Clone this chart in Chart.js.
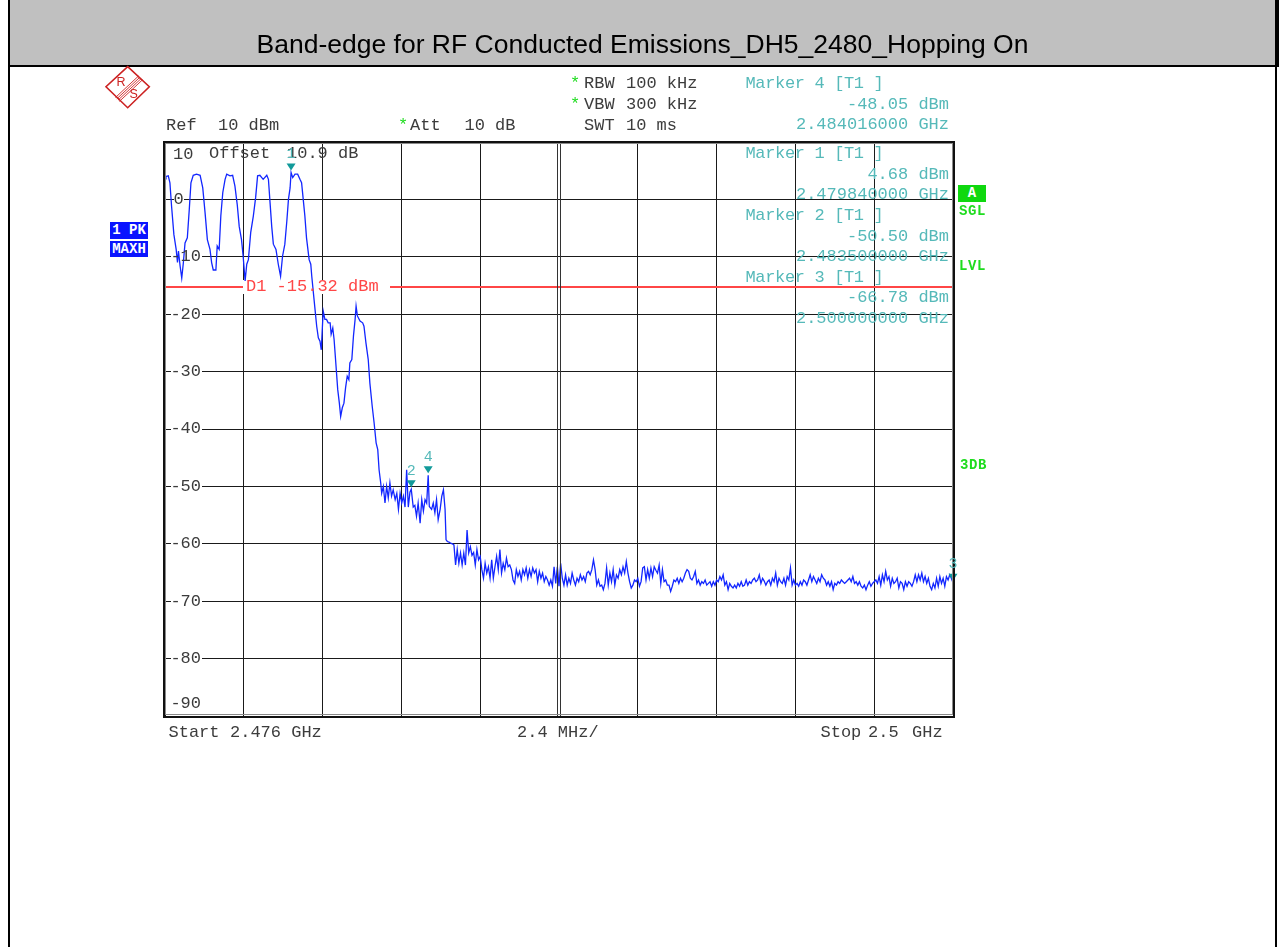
<!DOCTYPE html>
<html><head><meta charset="utf-8">
<script src="https://cdn.jsdelivr.net/npm/chart.js@4.4.1/dist/chart.umd.min.js"></script>
<style>
html,body{margin:0;padding:0;background:#fff;width:1279px;height:947px;overflow:hidden;position:relative;}
#c{position:absolute;left:0;top:0;}
.t{position:absolute;white-space:pre;font-family:"Liberation Mono","DejaVu Sans Mono",monospace;line-height:1;}
.box{position:absolute;color:#fff;font-family:"Liberation Mono",monospace;font-weight:bold;font-size:14px;text-align:center;}
#titlebar{position:absolute;left:8px;top:0;width:1267px;height:65px;background:#c0c0c0;border-left:2px solid #000;border-right:2px solid #000;border-bottom:2px solid #000;}
#title{position:absolute;left:8px;width:1269px;text-align:center;font-family:"Liberation Sans",Arial,sans-serif;font-size:26.5px;line-height:1;color:#000;white-space:pre;}
.vl{position:absolute;top:0;width:2px;height:947px;background:#000;}
</style></head><body>
<canvas id="c" width="1279" height="947"></canvas>
<div id="titlebar"></div>
<div class="vl" style="left:8px"></div>
<div class="vl" style="left:1275px"></div>
<div id="title">Band-edge for RF Conducted Emissions_DH5_2480_Hopping On</div>
<svg style="position:absolute;left:104px;top:64px" width="48" height="46" viewBox="0 0 48 46">
<polygon points="23.7,2.7 45.3,22.7 23.7,43.7 2,22.7" fill="none" stroke="#cc2222" stroke-width="1.6"/>
<g stroke="#cc2222" stroke-width="0.9">
<line x1="11.5" y1="33.5" x2="34.5" y2="12"/>
<line x1="12.8" y1="34.8" x2="35.8" y2="13.3"/>
<line x1="14.1" y1="36.1" x2="37.1" y2="14.6"/>
<line x1="15.4" y1="37.4" x2="38.4" y2="15.9"/>
</g>
<text x="12.5" y="21.5" font-family="Liberation Sans" font-size="12.5" fill="#cc2222">R</text>
<text x="25.5" y="34" font-family="Liberation Sans" font-size="12.5" fill="#cc2222">S</text>
</svg>
<script>
// ---------- data ----------
// sweep frequencies (MHz) and max-hold levels (dBm)
const freqMHz = [
2476.00,2476.03,2476.10,2476.15,2476.20,2476.27,2476.34,2476.38,2476.41,2476.46,
2476.51,2476.56,2476.61,2476.68,2476.74,2476.79,2476.86,2476.96,2477.07,2477.15,
2477.22,2477.29,2477.37,2477.42,2477.47,2477.55,2477.59,2477.65,2477.70,2477.76,
2477.83,2477.88,2477.98,2478.06,2478.13,2478.20,2478.26,2478.33,2478.38,2478.44,
2478.49,2478.54,2478.61,2478.69,2478.76,2478.82,2478.89,2478.99,2479.10,2479.15,
2479.20,2479.25,2479.30,2479.38,2479.45,2479.52,2479.58,2479.65,2479.71,2479.76,
2479.81,2479.84,2479.89,2479.96,2480.04,2480.11,2480.16,2480.21,2480.26,2480.31,
2480.39,2480.44,2480.47,2480.52,2480.57,2480.62,2480.67,2480.72,2480.76,2480.80,
2480.82,2480.87,2480.92,2480.97,2481.03,2481.06,2481.11,2481.15,2481.21,2481.26,
2481.31,2481.35,2481.40,2481.45,2481.50,2481.55,2481.60,2481.63,2481.69,2481.74,
2481.79,2481.82,2481.86,2481.94,2482.02,2482.06,2482.12,2482.19,2482.24,2482.31,
2482.37,2482.43,2482.48,2482.52,2482.57,2482.60,2482.65,2482.70,2482.75,2482.80,
2482.85,2482.90,2482.95,2483.01,2483.06,2483.11,2483.16,2483.21,2483.26,2483.31,
2483.36,2483.41,2483.46,2483.50,2483.56,2483.61,2483.66,2483.71,2483.77,2483.82,
2483.87,2483.92,2483.97,2484.016,2484.05,2484.12,2484.17,2484.22,2484.27,2484.32,
2484.38,2484.43,2484.48,2484.53,2484.56,
2484.60,2484.65,2484.70,2484.75,2484.80,2484.85,2484.90,2484.95,
2485.00,2485.05,2485.10,2485.15,2485.20,2485.25,2485.30,2485.35,2485.40,2485.45,2485.50,2485.55,2485.60,2485.65,2485.70,2485.75,2485.80,2485.85,2485.90,2485.95,
2486.00,2486.05,2486.10,2486.15,2486.20,2486.25,2486.30,2486.35,2486.40,2486.45,2486.50,2486.55,2486.60,2486.65,2486.70,2486.75,2486.80,2486.85,2486.90,2486.95,
2487.00,2487.05,2487.10,2487.15,2487.20,2487.25,2487.30,2487.35,2487.40,2487.45,2487.50,2487.55,2487.60,2487.65,2487.70,2487.75,2487.80,2487.85,2487.90,2487.95,
2488.00,2488.05,2488.10,2488.15,2488.20,2488.25,2488.30,2488.35,2488.40,2488.45,2488.50,2488.55,2488.60,2488.65,2488.70,2488.75,2488.80,2488.85,2488.90,2488.95,
2489.00,2489.05,2489.10,2489.15,2489.20,2489.25,2489.30,2489.35,2489.40,2489.45,2489.50,2489.55,2489.60,2489.65,2489.70,2489.75,2489.80,2489.85,2489.90,2489.95,
2490.00,2490.05,2490.10,2490.15,2490.20,2490.25,2490.30,2490.35,2490.40,2490.45,2490.50,2490.55,2490.60,2490.65,2490.70,2490.75,2490.80,2490.85,2490.90,2490.95,
2491.00,2491.05,2491.10,2491.15,2491.20,2491.25,2491.30,2491.35,2491.40,2491.45,2491.50,2491.55,2491.60,2491.65,2491.70,2491.75,2491.80,2491.85,2491.90,2491.95,
2492.00,2492.05,2492.10,2492.15,2492.20,2492.25,2492.30,2492.35,2492.40,2492.45,2492.50,2492.55,2492.60,2492.65,2492.70,2492.75,2492.80,2492.85,2492.90,2492.95,
2493.00,2493.05,2493.10,2493.15,2493.20,2493.25,2493.30,2493.35,2493.40,2493.45,2493.50,2493.55,2493.60,2493.65,2493.70,2493.75,2493.80,2493.85,2493.90,2493.95,
2494.00,2494.05,2494.10,2494.15,2494.20,2494.25,2494.30,2494.35,2494.40,2494.45,2494.50,2494.55,2494.60,2494.65,2494.70,2494.75,2494.80,2494.85,2494.90,2494.95,
2495.00,2495.05,2495.10,2495.15,2495.20,2495.25,2495.30,2495.35,2495.40,2495.45,2495.50,2495.55,2495.60,2495.65,2495.70,2495.75,2495.80,2495.85,2495.90,2495.95,
2496.00,2496.05,2496.10,2496.15,2496.20,2496.25,2496.30,2496.35,2496.40,2496.45,2496.50,2496.55,2496.60,2496.65,2496.70,2496.75,2496.80,2496.85,2496.90,2496.95,
2497.00,2497.05,2497.10,2497.15,2497.20,2497.25,2497.30,2497.35,2497.40,2497.45,2497.50,2497.55,2497.60,2497.65,2497.70,2497.75,2497.80,2497.85,2497.90,2497.95,
2498.00,2498.05,2498.10,2498.15,2498.20,2498.25,2498.30,2498.35,2498.40,2498.45,2498.50,2498.55,2498.60,2498.65,2498.70,2498.75,2498.80,2498.85,2498.90,2498.95,
2499.00,2499.05,2499.10,2499.15,2499.20,2499.25,2499.30,2499.35,2499.40,2499.45,2499.50,2499.55,2499.60,2499.65,2499.70,2499.75,2499.80,2499.85,2499.90,2499.95,
2500.00
];
const levelDbm = [
3.6,4.0,4.1,2.9,-1.2,-6.1,-8.7,-11.0,-9.0,-11.6,
-13.7,-11.0,-7.6,-6.7,-1.7,2.9,4.2,4.4,4.2,2.0,
-2.3,-7.0,-8.7,-11.0,-12.3,-12.3,-8.1,-8.7,-2.9,1.2,
3.5,4.4,4.1,4.2,2.3,-0.9,-4.7,-7.0,-9.9,-14.2,
-11.3,-10.5,-5.8,-2.9,0.3,4.1,4.2,3.5,4.2,3.5,
-0.6,-4.7,-7.8,-8.7,-11.3,-13.4,-9.9,-7.8,-3.8,0.0,
2.0,4.68,3.8,4.4,4.4,3.5,2.9,0.0,-2.9,-6.7,
-10.5,-11.3,-13.4,-16.3,-19.2,-22.1,-24.1,-24.7,-26.2,-21.5,
-19.5,-20.9,-20.9,-21.5,-21.5,-23.5,-22.4,-24.4,-29.1,-33.1,
-35.5,-37.8,-36.3,-35.5,-32.8,-30.8,-31.4,-28.5,-27.9,-23.8,
-20.9,-18.6,-20.3,-21.2,-21.5,-22.1,-25.0,-27.9,-32.0,-36.0,
-39.0,-42.4,-43.6,-47.1,-49.4,-51.2,-50.0,-52.9,-50.0,-52.0,
-49.4,-51.7,-50.6,-52.3,-51.2,-54.0,-51.2,-52.9,-51.7,-53.6,
-47.1,-53.6,-51.0,-50.5,-53.6,-53.3,-55.2,-52.9,-56.4,-52.3,
-54.3,-52.3,-52.9,-48.05,-53.5,-54.0,-52.9,-54.6,-52.3,-55.8,
-54.0,-51.7,-50.6,-54.0,-59.3,
-59.6,-59.7,-59.9,-60.0,-60.2,-63.7,-61.0,-63.4,
-61.6,-63.7,-61.6,-63.7,-57.6,-61.6,-60.5,-62.0,-61.5,-63.7,-61.0,-62.8,-62.2,-64.5,-66.0,-63.4,-65.1,-64.0,-66.0,-62.8,
-66.0,-64.0,-62.2,-64.5,-61.0,-65.1,-63.4,-64.5,-62.5,-64.0,-63.7,-64.5,-66.3,-66.9,-64.5,-65.7,-64.8,-66.3,-64.5,-65.4,
-64.2,-66.0,-64.5,-65.7,-64.2,-65.1,-64.5,-66.6,-64.8,-66.0,-65.1,-66.6,-65.7,-66.3,-67.2,-66.3,-67.4,-64.0,-66.9,-64.0,
-67.4,-63.4,-66.0,-67.2,-65.4,-67.2,-66.0,-66.9,-65.1,-66.3,-67.2,-66.0,-66.6,-65.4,-66.3,-65.7,-66.6,-65.1,-64.8,-65.4,
-64.5,-62.8,-64.5,-67.2,-66.3,-67.4,-67.2,-68.0,-66.9,-64.2,-67.2,-65.1,-66.6,-64.5,-67.2,-65.4,-66.0,-64.5,-65.4,-64.0,
-65.1,-63.1,-65.1,-66.6,-67.7,-67.2,-66.3,-66.6,-66.0,-67.4,-66.6,-64.2,-64.0,-66.3,-64.5,-66.0,-64.2,-65.7,-64.0,-64.6,
-65.1,-63.7,-66.9,-64.5,-66.6,-66.3,-67.2,-67.2,-68.3,-67.4,-66.3,-66.6,-66.0,-66.9,-66.0,-66.6,-66.0,-65.1,-64.5,-64.8,
-66.0,-66.3,-65.7,-64.8,-66.9,-66.3,-67.2,-66.6,-66.9,-66.3,-67.2,-66.9,-66.6,-67.4,-66.6,-67.2,-66.3,-66.6,-65.7,-66.3,
-65.4,-67.2,-66.6,-68.0,-66.9,-67.4,-67.7,-67.2,-67.7,-66.9,-67.4,-66.6,-67.4,-67.2,-66.3,-67.2,-66.6,-66.9,-66.3,-66.0,
-66.6,-66.3,-65.4,-66.9,-66.0,-66.5,-67.2,-66.6,-66.3,-67.2,-66.0,-66.6,-65.1,-67.2,-66.0,-66.6,-66.9,-66.0,-67.2,-65.7,
-66.3,-64.2,-67.2,-66.3,-67.2,-66.9,-67.4,-66.6,-67.2,-66.3,-66.6,-67.2,-66.3,-65.4,-66.6,-65.7,-66.3,-66.9,-66.0,-66.6,
-65.4,-66.0,-66.3,-67.2,-66.6,-67.4,-66.6,-68.0,-66.9,-67.2,-66.6,-66.9,-66.3,-66.6,-66.9,-66.6,-66.3,-66.0,-66.6,-65.7,
-66.9,-66.6,-67.2,-66.6,-67.4,-67.7,-67.2,-68.0,-67.2,-66.6,-67.4,-66.9,-66.6,-66.3,-66.9,-65.7,-67.2,-65.4,-66.6,-64.8,
-66.3,-65.7,-67.4,-66.0,-66.9,-66.6,-66.0,-67.7,-66.6,-66.9,-68.0,-66.6,-67.4,-66.6,-66.9,-67.4,-66.6,-65.4,-66.6,-65.4,
-66.3,-65.1,-66.6,-65.7,-66.9,-66.0,-67.4,-68.0,-66.9,-67.7,-66.0,-67.4,-65.7,-66.9,-66.0,-67.4,-65.7,-66.3,-65.4,-66.0,
-66.78
];
const xGridMHz = [2476,2478.4,2480.8,2483.2,2485.6,2488,2490.4,2492.8,2495.2,2497.6,2500];
const yGridDbm = [10,0,-10,-20,-30,-40,-50,-60,-70,-80,-90];
const yTickLabels = ['10','0','-10','-20','-30','-40','-50','-60','-70','-80','-90'];
const markerNumbers = [1,2,3,4];
const markerFreqGHz = [2.47984,2.4835,2.5,2.484016];
const markerLevelDbm = [4.68,-50.5,-66.78,-48.05];
const d1LevelDbm = -15.32;

// ---------- colours ----------
const GRAY='#3c3c3c', TEAL='#55b9b9', TEALM='#119a9a', RED='#ff4646', GREEN='#1fdc1f', BLUE='#1226ff';

const overlay = {
  id:'overlay',
  beforeDatasetsDraw(chart){
    const {ctx, chartArea:a, scales:{x,y}} = chart;
    ctx.save();
    const yd = Math.round(y.getPixelForValue(d1LevelDbm));
    ctx.fillStyle = RED;
    ctx.fillRect(a.left, yd-1, a.right-a.left, 2);
    ctx.fillStyle = '#fff';
    ctx.fillRect(243, yd-7, 147, 14);
    yGridDbm.forEach((v,i)=>{
      if (i===0 || i===yGridDbm.length-1) return;
      const py = Math.round(y.getPixelForValue(v));
      if (v===0) ctx.fillRect(174, py-6, 10, 12);
      else ctx.fillRect(171, py-6, 31, 12);
    });
    ctx.restore();
  },
  afterDatasetsDraw(chart){
    const {ctx, chartArea:a, scales:{x,y}} = chart;
    ctx.save();
    ctx.fillStyle = TEALM;
    markerNumbers.forEach((n,i)=>{
      const px = x.getPixelForValue(markerFreqGHz[i]*1000);
      const py = y.getPixelForValue(markerLevelDbm[i]);
      ctx.beginPath();
      ctx.moveTo(px-4.5, py-9); ctx.lineTo(px+4.5, py-9); ctx.lineTo(px, py-2); ctx.closePath(); ctx.fill();
    });
    const cx = Math.round(x.getPixelForValue(xGridMHz[5]));
    ctx.strokeStyle = '#333'; ctx.lineWidth = 1;
    ctx.beginPath(); ctx.moveTo(cx-1.5, a.top); ctx.lineTo(cx-1.5, a.bottom);
    ctx.moveTo(cx+1.5, a.top); ctx.lineTo(cx+1.5, a.bottom); ctx.stroke();
    ctx.strokeStyle = '#111'; ctx.lineWidth = 2;
    ctx.strokeRect(a.left-1, a.top, a.right-a.left+2, a.bottom-a.top+1);
    ctx.strokeStyle = '#8a8a8a'; ctx.lineWidth = 1;
    ctx.strokeRect(a.left+0.5, a.top+1.5, a.right-a.left-1, a.bottom-a.top-3);
    ctx.restore();
  }
};

const gridColor = c => (c.tick && c.tick.value === xGridMHz[5]) ? 'rgba(0,0,0,0)' : '#1a1a1a';

const chart = new Chart(document.getElementById('c'), {
  type:'line',
  data:{datasets:[{
    data: freqMHz.map((f,i)=>({x:f, y:levelDbm[i]})),
    borderColor: BLUE, borderWidth: 1.3, pointRadius: 0, tension: 0, fill:false
  }]},
  options:{
    responsive:false, animation:false, devicePixelRatio:1, events:[],
    layout:{padding:{left:165,right:326,top:142,bottom:231}},
    plugins:{legend:{display:false}, tooltip:{enabled:false}, title:{display:false}},
    scales:{
      x:{type:'linear', min:2476, max:2500,
         afterBuildTicks:s=>{s.ticks = xGridMHz.map(v=>({value:v}));},
         ticks:{display:false}, grid:{color:gridColor, lineWidth:1, drawTicks:false}, border:{display:false}},
      y:{type:'linear', min:-90, max:10,
         afterBuildTicks:s=>{s.ticks = yGridDbm.map(v=>({value:v}));},
         ticks:{display:false}, grid:{color:'#1a1a1a', lineWidth:1, drawTicks:false}, border:{display:false}}
    }
  },
  plugins:[overlay]
});

// ---------- text ----------
function T(text, x, base, o){
  o = o || {};
  const size = o.size || 17;
  const d = document.createElement('div');
  d.className = 't';
  d.textContent = text;
  d.style.fontSize = size + 'px';
  d.style.color = o.color || GRAY;
  if (o.bold) d.style.fontWeight = 'bold';
  if (o.ls) d.style.letterSpacing = o.ls + 'px';
  d.style.top = (base - 0.766*size) + 'px';
  if (o.align === 'right') d.style.right = (1279 - x) + 'px';
  else if (o.align === 'center') { d.style.left = x + 'px'; d.style.transform = 'translateX(-50%)'; }
  else d.style.left = x + 'px';
  document.body.appendChild(d);
  return d;
}
document.getElementById('title').style.top = (53.5 - 0.8465*26.5) + 'px';

T('Ref',166,130); T('10 dBm',218,130);
T('*',398,130,{color:GREEN}); T('Att',410,130); T('10 dB',464.5,130);
T('*',570,88,{color:GREEN}); T('RBW',584,88); T('100 kHz',626,88);
T('*',570,109.5,{color:GREEN}); T('VBW',584,109.5); T('300 kHz',626,109.5);
T('SWT',584,130); T('10 ms',626,130);
T('Offset',209,158.5); T('10.9 dB',287,158.5);

// marker info blocks (order shown: 4,1,2,3)
const panelOrder = [4,1,2,3];
const panelBase = [88,158,220,281.7];
panelOrder.forEach((n,k)=>{
  const i = markerNumbers.indexOf(n);
  const b = panelBase[k];
  T('Marker ' + n + ' [T1 ]', 745.5, b, {color:TEAL, ls:-0.35});
  T(markerLevelDbm[i].toFixed(2) + ' dBm', 949, b+20.7, {color:TEAL, align:'right'});
  T(markerFreqGHz[i].toFixed(9) + ' GHz', 949, b+41.4, {color:TEAL, align:'right'});
});

T('D1 ' + d1LevelDbm.toFixed(2) + ' dBm', 246, 291.5, {color:RED});

const ys = chart.scales.y, xs = chart.scales.x;
yGridDbm.forEach((v,i)=>{
  const py = ys.getPixelForValue(v);
  if (i===0) T(yTickLabels[i], 173, 159);
  else if (i===yGridDbm.length-1) T(yTickLabels[i], 201, 708, {align:'right'});
  else if (v===0) T(yTickLabels[i], 173.5, py+4.5);
  else T(yTickLabels[i], 201, py+4.5, {align:'right'});
});

markerNumbers.forEach((n,i)=>{
  const px = xs.getPixelForValue(markerFreqGHz[i]*1000);
  const py = ys.getPixelForValue(markerLevelDbm[i]);
  T(String(n), px, py-14, {color:TEAL, align:'center', size:15});
});

T('Start',168.5,737); T('2.476 GHz',230,737); T('2.4 MHz/',517,737);
T('Stop',820.5,737); T('2.5',868,737); T('GHz',912,737);

function B(text, l, t, w, h, bg){
  const d = document.createElement('div');
  d.className = 'box';
  d.textContent = text;
  Object.assign(d.style, {left:l+'px', top:t+'px', width:w+'px', height:h+'px', lineHeight:h+'px', background:bg});
  document.body.appendChild(d);
}
B('1 PK',110,222,38,17,'#0a14ff');
B('MAXH',110,241,38,16,'#0a14ff');
B('A',958,185,28,17,'#0fd80f');
T('SGL',959,215,{color:GREEN, bold:true, size:14, ls:0.6});
T('LVL',959,270,{color:GREEN, bold:true, size:14, ls:0.6});
T('3DB',960,469,{color:GREEN, bold:true, size:14, ls:0.6});
</script>
</body></html>
